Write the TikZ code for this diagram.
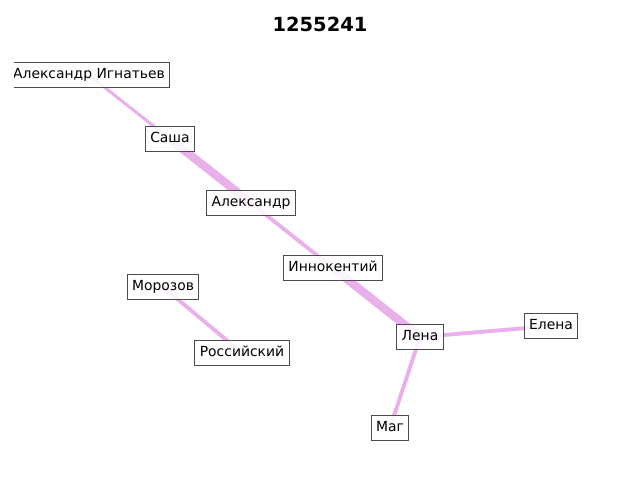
\documentclass[tikz,border=0pt]{standalone}
\usepackage{fontspec}
\setmainfont{DejaVu Sans}
\begin{document}
\begin{tikzpicture}[x=0.72pt,y=-0.72pt,
  lbl/.style={draw=black!70,line width=0.75pt,fill=white,fill opacity=0.85,text opacity=1,
    font=\fontsize{10}{12}\selectfont,inner xsep=3.6pt,inner ysep=4.2pt,
    text height=7.9pt,text depth=2.2pt},
  edge/.style={draw=ecol,line cap=butt}]
\definecolor{ecol}{RGB}{233,176,236}
\useasboundingbox (0,0) rectangle (640,480);
\node[font=\fontsize{14}{16}\selectfont\bfseries] (title) at (320,24) {1255241};
\begin{scope}
\clip (14,0) rectangle (640,480);
\coordinate (pA) at (89,75);
\coordinate (pS) at (170,139);
\coordinate (pAl) at (251,203);
\coordinate (pI) at (333,268);
\coordinate (pL) at (420,337);
\coordinate (pE) at (551,326);
\coordinate (pM) at (390,428);
\coordinate (pMo) at (163,287);
\coordinate (pR) at (242,353);
\draw[edge,line width=2.2pt] (pA) -- (pS);
\draw[edge,line width=6pt] (pS) -- (pAl);
\draw[edge,line width=2.8pt] (pAl) -- (pI);
\draw[edge,line width=6pt] (pI) -- (pL);
\draw[edge,line width=2.8pt] (pL) -- (pE);
\draw[edge,line width=2.8pt] (pL) -- (pM);
\draw[edge,line width=2.8pt] (pMo) -- (pR);
\node[lbl] (A) at (pA) {Александр Игнатьев};
\node[lbl] (S) at (pS) {Саша};
\node[lbl] (Al) at (pAl) {Александр};
\node[lbl] (I) at (pI) {Иннокентий};
\node[lbl] (L) at (pL) {Лена};
\node[lbl] (E) at (pE) {Елена};
\node[lbl] (M) at (pM) {Маг};
\node[lbl] (Mo) at (pMo) {Морозов};
\node[lbl] (R) at (pR) {Российский};
\end{scope}
\end{tikzpicture}
\end{document}
